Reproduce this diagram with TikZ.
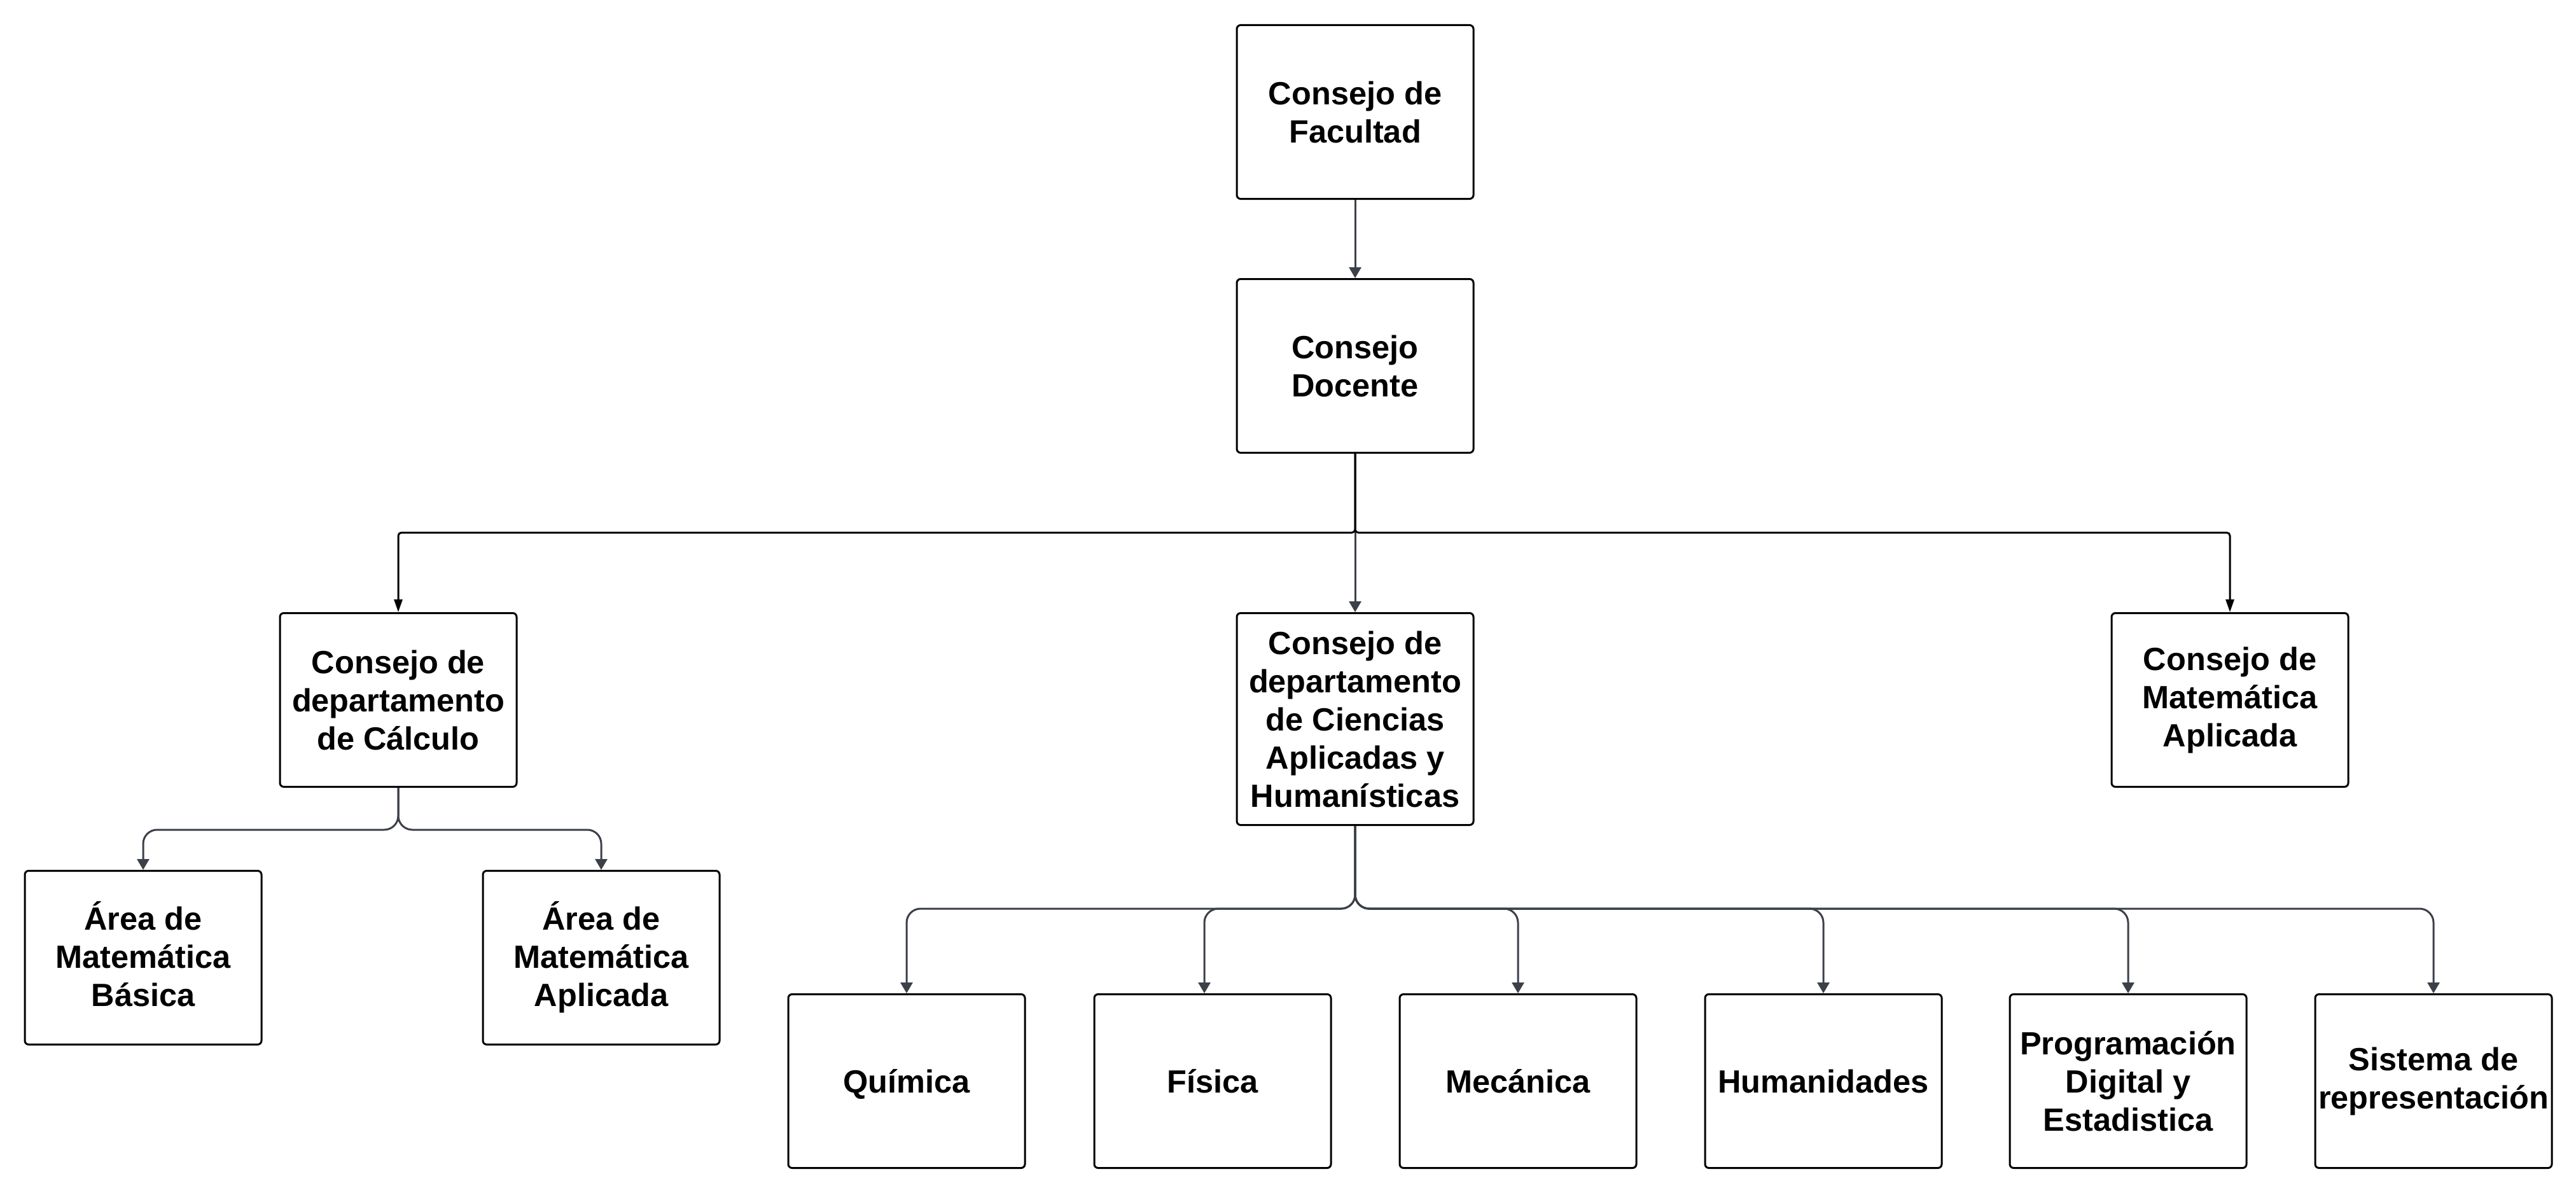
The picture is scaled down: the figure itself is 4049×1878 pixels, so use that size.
\documentclass[tikz,border=0pt]{standalone}
\usepackage{fontspec}
\setmainfont{Liberation Sans}
\usetikzlibrary{arrows.meta,calc}
\definecolor{conngray}{HTML}{3C4049}
\newcommand\mytopstrut{\rule{0pt}{48pt}}
\newcommand\mybotstrut{\rule[-12pt]{0pt}{12pt}}
\begin{document}
\begin{tikzpicture}[x=1pt,y=-1pt,
  box/.style={draw=black, line width=3pt, rounded corners=6pt, fill=white,
    minimum width=372pt, minimum height=273pt, align=center, inner sep=2pt,
    font=\fontsize{50.5}{60}\selectfont\bfseries},
  onebox/.style={box,
    execute at begin node=\mytopstrut, execute at end node=\mybotstrut},
  lowbox/.style={box, execute at begin node=\rule{0pt}{49pt}},
  garrow/.style={draw=conngray, line width=3pt, rounded corners=22pt,
    -{Triangle[width=19pt,length=17pt]}},
  barrow/.style={draw=black, line width=3pt, rounded corners=5pt,
    -{Triangle[width=13pt,length=20pt]}}
]
\useasboundingbox (0,0) rectangle (4049,1878);
\fill[white] (0,0) rectangle (4049,1878);

\node[box] (fac) at (2130,176) {Consejo de\\Facultad};
\node[box] (doc) at (2130,575) {Consejo\\Docente};
\node[box] (calc) at (626,1100) {Consejo de\\departamento\\de Cálculo};
\node[box, minimum height=333pt] (cien) at (2130,1130) {Consejo de\\departamento\\de Ciencias\\Aplicadas y\\Humanísticas};
\node[box] (mat) at (3505,1100) {Consejo de\\Matemática\\Aplicada};
\node[onebox] (bas) at (225,1505) {Área de\\Matemática\\Básica};
\node[onebox] (apl) at (945,1505) {Área de\\Matemática\\Aplicada};
\node[onebox] (qui) at (1425,1699) {Química};
\node[onebox] (fis) at (1906,1699) {Física};
\node[onebox] (mec) at (2386,1699) {Mecánica};
\node[onebox] (hum) at (2866,1699) {Humanidades};
\node[box] (pro) at (3345,1699) {Programación\\Digital y\\Estadistica};
\node[lowbox] (sis) at (3825,1699) {Sistema de\\representación};

\coordinate (db) at (2130,837);
\coordinate (kb) at (626,1304);
\coordinate (cb) at (2130,1428);

\draw[garrow] (fac.south) -- (doc.north);
\draw[barrow] (doc.south) -- (db) -| (calc.north);
\draw[barrow] (doc.south) -- (db) -| (mat.north);
\draw[garrow] (db) -- (cien.north);

\draw[garrow] (calc.south) -- (kb) -| (bas.north);
\draw[garrow] (calc.south) -- (kb) -| (apl.north);

\draw[garrow] (cien.south) -- (cb) -| (qui.north);
\draw[garrow] (cien.south) -- (cb) -| ($(fis.north)+(-13,0)$);
\draw[garrow] (cien.south) -- (cb) -| (mec.north);
\draw[garrow] (cien.south) -- (cb) -| (hum.north);
\draw[garrow] (cien.south) -- (cb) -| (pro.north);
\draw[garrow] (cien.south) -- (cb) -| (sis.north);
\end{tikzpicture}
\end{document}
